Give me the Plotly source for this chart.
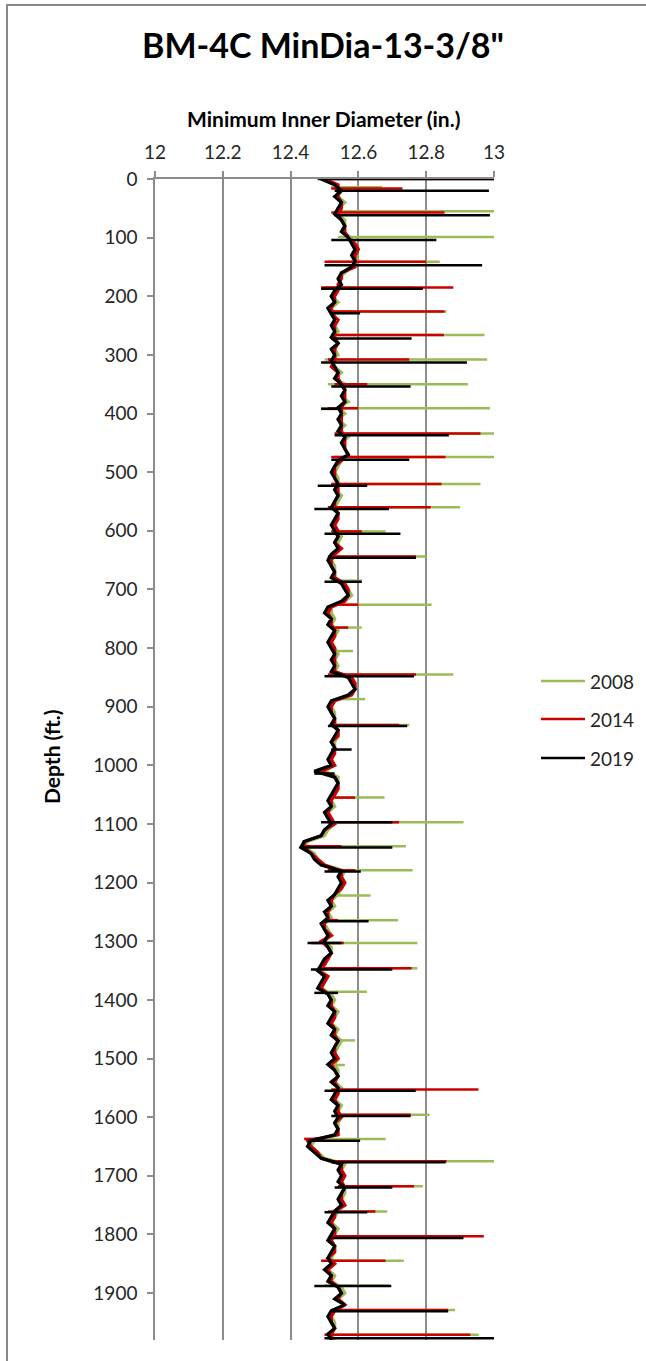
import plotly.graph_objects as go

# ---------------- data ----------------
depth_grid = list(range(0, 1981, 10))  # ft, sampling depths of the baseline readings

dia_2019 = [
    12.49, 12.53, 12.55, 12.53, 12.55, 12.54, 12.53, 12.55, 12.56, 12.55,
    12.57, 12.58, 12.59, 12.58, 12.59, 12.58, 12.55, 12.54, 12.55, 12.53,
    12.52, 12.53, 12.51, 12.52, 12.53, 12.52, 12.53, 12.52, 12.54, 12.52,
    12.53, 12.52, 12.53, 12.54, 12.53, 12.55, 12.56, 12.55, 12.56, 12.54,
    12.55, 12.54, 12.55, 12.54, 12.56, 12.55, 12.56, 12.57, 12.54, 12.53,
    12.52, 12.53, 12.54, 12.53, 12.54, 12.53, 12.52, 12.54, 12.53, 12.52,
    12.53, 12.54, 12.53, 12.54, 12.52, 12.51, 12.52, 12.53, 12.52, 12.55,
    12.56, 12.57, 12.55, 12.51, 12.50, 12.52, 12.51, 12.53, 12.52, 12.51,
    12.52, 12.53, 12.52, 12.53, 12.52, 12.57, 12.58, 12.59, 12.57, 12.52,
    12.51, 12.52, 12.53, 12.52, 12.54, 12.53, 12.52, 12.53, 12.52, 12.51,
    12.52, 12.47, 12.53, 12.54, 12.53, 12.52, 12.51, 12.52, 12.50, 12.51,
    12.52, 12.50, 12.49, 12.44, 12.43, 12.46, 12.47, 12.49, 12.55, 12.54,
    12.55, 12.54, 12.53, 12.51, 12.52, 12.50, 12.51, 12.49, 12.50, 12.51,
    12.50, 12.51, 12.52, 12.50, 12.49, 12.48, 12.50, 12.49, 12.48, 12.51,
    12.52, 12.51, 12.53, 12.52, 12.51, 12.53, 12.52, 12.54, 12.53, 12.52,
    12.53, 12.51, 12.53, 12.54, 12.52, 12.54, 12.53, 12.52, 12.54, 12.53,
    12.54, 12.53, 12.54, 12.53, 12.46, 12.45, 12.47, 12.49, 12.55, 12.54,
    12.55, 12.54, 12.56, 12.55, 12.54, 12.55, 12.53, 12.52, 12.51, 12.53,
    12.52, 12.51, 12.53, 12.52, 12.51, 12.52, 12.50, 12.52, 12.51, 12.54,
    12.55, 12.53, 12.56, 12.52, 12.51, 12.52, 12.53, 12.51, 12.52,
]

dia_2014 = [
    12.50, 12.54, 12.54, 12.54, 12.55, 12.55, 12.54, 12.55, 12.56, 12.56,
    12.57, 12.59, 12.60, 12.59, 12.59, 12.59, 12.55, 12.55, 12.54, 12.54,
    12.53, 12.53, 12.52, 12.52, 12.54, 12.53, 12.53, 12.53, 12.54, 12.53,
    12.53, 12.53, 12.52, 12.54, 12.54, 12.55, 12.56, 12.56, 12.56, 12.55,
    12.55, 12.55, 12.55, 12.55, 12.56, 12.56, 12.56, 12.57, 12.55, 12.53,
    12.53, 12.53, 12.54, 12.54, 12.54, 12.53, 12.53, 12.54, 12.54, 12.53,
    12.54, 12.54, 12.53, 12.55, 12.53, 12.52, 12.52, 12.53, 12.53, 12.56,
    12.57, 12.57, 12.56, 12.52, 12.51, 12.52, 12.52, 12.53, 12.53, 12.52,
    12.53, 12.53, 12.53, 12.53, 12.53, 12.58, 12.59, 12.59, 12.58, 12.53,
    12.52, 12.52, 12.53, 12.53, 12.54, 12.54, 12.52, 12.53, 12.53, 12.52,
    12.53, 12.49, 12.53, 12.54, 12.54, 12.53, 12.52, 12.52, 12.51, 12.52,
    12.53, 12.50, 12.49, 12.44, 12.44, 12.46, 12.48, 12.50, 12.55, 12.55,
    12.56, 12.55, 12.53, 12.52, 12.52, 12.51, 12.51, 12.50, 12.50, 12.52,
    12.49, 12.51, 12.52, 12.51, 12.50, 12.48, 12.51, 12.50, 12.49, 12.51,
    12.52, 12.52, 12.53, 12.53, 12.52, 12.53, 12.53, 12.54, 12.53, 12.53,
    12.54, 12.52, 12.53, 12.54, 12.53, 12.54, 12.54, 12.53, 12.54, 12.54,
    12.55, 12.53, 12.54, 12.54, 12.45, 12.46, 12.48, 12.49, 12.55, 12.55,
    12.56, 12.55, 12.56, 12.55, 12.55, 12.56, 12.53, 12.53, 12.52, 12.53,
    12.53, 12.52, 12.53, 12.53, 12.51, 12.53, 12.51, 12.52, 12.52, 12.54,
    12.55, 12.54, 12.56, 12.53, 12.52, 12.52, 12.53, 12.52, 12.52,
]

dia_2008 = [
    12.50, 12.53, 12.55, 12.54, 12.56, 12.54, 12.54, 12.56, 12.56, 12.55,
    12.58, 12.58, 12.59, 12.59, 12.60, 12.58, 12.56, 12.54, 12.55, 12.54,
    12.52, 12.54, 12.52, 12.53, 12.53, 12.53, 12.54, 12.52, 12.54, 12.53,
    12.54, 12.52, 12.53, 12.55, 12.53, 12.56, 12.56, 12.55, 12.57, 12.54,
    12.56, 12.54, 12.56, 12.54, 12.57, 12.55, 12.56, 12.57, 12.55, 12.54,
    12.53, 12.54, 12.54, 12.53, 12.55, 12.54, 12.53, 12.54, 12.53, 12.53,
    12.53, 12.55, 12.54, 12.54, 12.53, 12.52, 12.53, 12.53, 12.53, 12.56,
    12.57, 12.58, 12.56, 12.52, 12.52, 12.53, 12.52, 12.54, 12.53, 12.52,
    12.53, 12.54, 12.53, 12.54, 12.53, 12.57, 12.59, 12.59, 12.58, 12.53,
    12.52, 12.53, 12.53, 12.53, 12.54, 12.54, 12.53, 12.53, 12.52, 12.52,
    12.53, 12.50, 12.54, 12.54, 12.54, 12.53, 12.52, 12.53, 12.51, 12.52,
    12.53, 12.51, 12.50, 12.45, 12.44, 12.47, 12.48, 12.50, 12.56, 12.55,
    12.56, 12.55, 12.54, 12.52, 12.53, 12.51, 12.52, 12.50, 12.51, 12.52,
    12.50, 12.52, 12.52, 12.51, 12.50, 12.49, 12.51, 12.50, 12.49, 12.52,
    12.53, 12.52, 12.54, 12.53, 12.52, 12.54, 12.53, 12.55, 12.54, 12.53,
    12.54, 12.53, 12.54, 12.54, 12.53, 12.55, 12.54, 12.53, 12.55, 12.54,
    12.55, 12.54, 12.54, 12.54, 12.47, 12.46, 12.48, 12.50, 12.56, 12.55,
    12.56, 12.55, 12.56, 12.56, 12.55, 12.56, 12.54, 12.53, 12.52, 12.54,
    12.53, 12.52, 12.53, 12.53, 12.52, 12.53, 12.51, 12.53, 12.52, 12.55,
    12.56, 12.54, 12.56, 12.53, 12.52, 12.53, 12.53, 12.52, 12.53,
]

# spikes: depth (ft), left end (in.), right end (in.)
spike_depth_2019 = [0, 20, 62, 104, 147, 187, 229, 272, 313, 354, 392, 437, 479,
                    523, 563, 605, 646, 687, 848, 933, 973, 1014, 1097, 1140, 1181,
                    1266, 1303, 1348, 1388, 1555, 1598, 1640, 1677, 1720, 1762,
                    1806, 1888, 1931, 1977]
spike_from_2019 = [12.48, 12.53, 12.53, 12.52, 12.50, 12.49, 12.52, 12.52, 12.49,
                   12.52, 12.49, 12.53, 12.52, 12.48, 12.47, 12.50, 12.51, 12.50,
                   12.50, 12.51, 12.52, 12.47, 12.49, 12.43, 12.50, 12.50, 12.45,
                   12.46, 12.47, 12.50, 12.52, 12.45, 12.52, 12.53, 12.50, 12.51,
                   12.47, 12.52, 12.50]
spike_to_2019 = [13.0, 12.985, 12.988, 12.83, 12.965, 12.79, 12.605, 12.757, 12.92,
                 12.754, 12.55, 12.867, 12.75, 12.626, 12.69, 12.724, 12.77, 12.61,
                 12.764, 12.744, 12.58, 12.53, 12.70, 12.70, 12.607, 12.63, 12.55,
                 12.70, 12.54, 12.769, 12.754, 12.605, 12.857, 12.70, 12.626, 12.91,
                 12.697, 12.865, 13.0]

spike_depth_2014 = [0, 16, 57, 141, 185, 226, 266, 308, 350, 391, 434, 474, 520,
                    560, 601, 644, 726, 765, 845, 931, 1055, 1097, 1138, 1179, 1264,
                    1303, 1346, 1553, 1596, 1637, 1675, 1718, 1761, 1803, 1845,
                    1929, 1971]
spike_from_2014 = [12.50, 12.52, 12.52, 12.50, 12.49, 12.52, 12.52, 12.51, 12.53,
                   12.51, 12.53, 12.52, 12.52, 12.51, 12.52, 12.51, 12.54, 12.53,
                   12.51, 12.52, 12.53, 12.51, 12.44, 12.51, 12.50, 12.46, 12.48,
                   12.52, 12.53, 12.44, 12.52, 12.54, 12.51, 12.52, 12.49, 12.52,
                   12.50]
spike_to_2014 = [13.0, 12.73, 12.854, 12.80, 12.88, 12.854, 12.852, 12.75, 12.626,
                 12.60, 12.96, 12.857, 12.845, 12.813, 12.61, 12.77, 12.60, 12.57,
                 12.77, 12.72, 12.59, 12.72, 12.55, 12.59, 12.54, 12.557, 12.757,
                 12.954, 12.754, 12.50, 12.86, 12.764, 12.65, 12.97, 12.68, 12.864,
                 12.93]

spike_depth_2008 = [14, 55, 99, 141, 185, 226, 266, 308, 350, 391, 434, 474, 520,
                    560, 601, 644, 685, 726, 765, 805, 845, 887, 931, 1055, 1097,
                    1138, 1179, 1222, 1264, 1303, 1346, 1386, 1469, 1511, 1596,
                    1637, 1675, 1718, 1761, 1845, 1887, 1929, 1971]
spike_from_2008 = [12.52, 12.53, 12.54, 12.51, 12.50, 12.52, 12.52, 12.50, 12.51,
                   12.49, 12.53, 12.53, 12.52, 12.51, 12.52, 12.51, 12.52, 12.54,
                   12.52, 12.53, 12.52, 12.55, 12.52, 12.53, 12.51, 12.45, 12.51,
                   12.53, 12.50, 12.47, 12.48, 12.49, 12.54, 12.53, 12.53, 12.47,
                   12.51, 12.54, 12.52, 12.50, 12.50, 12.52, 12.51]
spike_to_2008 = [12.67, 13.0, 13.0, 12.84, 12.76, 12.86, 12.972, 12.98, 12.923,
                 12.988, 13.0, 13.0, 12.96, 12.90, 12.68, 12.80, 12.61, 12.816,
                 12.61, 12.584, 12.88, 12.62, 12.75, 12.677, 12.91, 12.74, 12.76,
                 12.636, 12.717, 12.774, 12.774, 12.625, 12.59, 12.56, 12.81, 12.68,
                 13.0, 12.79, 12.685, 12.734, 12.69, 12.885, 12.955]

series_names = ["2008", "2014", "2019"]
series_colors = ["#9BBB59", "#CC0000", "#000000"]

# ---------------- figure ----------------
def spike_xy(sd, sf, st):
    xs, ys = [], []
    for d, a, b in zip(sd, sf, st):
        xs += [a, b, None]
        ys += [d, d, None]
    return xs, ys

series = [
    (dia_2008, spike_depth_2008, spike_from_2008, spike_to_2008),
    (dia_2014, spike_depth_2014, spike_from_2014, spike_to_2014),
    (dia_2019, spike_depth_2019, spike_from_2019, spike_to_2019),
]

fig = go.Figure()
for name, color, (base, sd, sf, st) in zip(series_names, series_colors, series):
    fig.add_trace(go.Scatter(
        x=base, y=depth_grid, mode="lines", name=name, legendgroup=name,
        showlegend=False,
        line=dict(color=color, width=3.2, simplify=False),
        hoverinfo="skip",
    ))
    sx, sy = spike_xy(sd, sf, st)
    fig.add_trace(go.Scatter(
        x=sx, y=sy, mode="lines", name=name, legendgroup=name,
        showlegend=False,
        line=dict(color=color, width=2.5, simplify=False),
        connectgaps=False, hoverinfo="skip",
    ))

FONT = "Lato, 'Open Sans', sans-serif"
GRID = "#8C8C8C"
TXT = "#262626"

L, R, T, B = 155, 152, 179, 21
W, H = 646, 1361
pw, ph = W - L - R, H - T - B

def px_x(px):
    return (px - L) / pw

def px_y(py):
    return (H - B - py) / ph

annotations = [
    dict(text="<b>BM-4C MinDia-13-3/8\"</b>", xref="paper", yref="paper",
         x=px_x(323), y=px_y(45), xanchor="center", yanchor="middle",
         showarrow=False, font=dict(size=34, color="#000000")),
    dict(text="<b>Minimum Inner Diameter (in.)</b>", xref="paper", yref="paper",
         x=px_x(323), y=px_y(118), xanchor="center", yanchor="middle",
         showarrow=False, font=dict(size=21, color="#000000")),
    dict(text="<b>Depth (ft.)</b>", xref="paper", yref="paper",
         x=px_x(51), y=px_y(757), xanchor="center", yanchor="middle",
         textangle=-90, showarrow=False, font=dict(size=21, color="#000000")),
]
shapes = [
    dict(type="rect", xref="paper", yref="paper",
         x0=px_x(7), x1=px_x(660), y0=px_y(1375), y1=px_y(5),
         line=dict(color="#888888", width=2), fillcolor="rgba(0,0,0,0)",
         layer="below"),
]

# legend drawn as key lines + text
legend_rows = [681, 719, 758]
for name, color, row in zip(series_names, series_colors, legend_rows):
    shapes.append(dict(type="line", xref="paper", yref="paper",
                       x0=px_x(541), x1=px_x(585), y0=px_y(row), y1=px_y(row),
                       line=dict(color=color, width=2.5)))
    annotations.append(dict(text=name, xref="paper", yref="paper",
                            x=px_x(588), y=px_y(row), xanchor="left",
                            yanchor="middle", showarrow=False,
                            font=dict(size=19, color=TXT)))

fig.update_layout(
    width=W, height=H,
    margin=dict(l=L, r=R, t=T, b=B, autoexpand=False),
    paper_bgcolor="white", plot_bgcolor="white",
    font=dict(family=FONT, color=TXT, size=19),
    showlegend=False,
    xaxis=dict(
        side="top", range=[12, 13], dtick=0.2, tick0=12,
        showgrid=True, gridcolor=GRID, gridwidth=1.5,
        showline=True, linecolor=GRID, linewidth=1.5,
        ticks="outside", ticklen=6, tickcolor=GRID, tickwidth=1.5,
        zeroline=False, tickfont=dict(size=19, color=TXT),
        ticklabelstandoff=5, automargin=False,
        fixedrange=True,
    ),
    yaxis=dict(
        range=[1980, 0], dtick=100, tick0=0,
        showgrid=False, showline=True, linecolor=GRID, linewidth=1.5,
        ticks="outside", ticklen=6, tickcolor=GRID, tickwidth=1.5,
        zeroline=False, tickfont=dict(size=19, color=TXT),
        ticklabelstandoff=6, automargin=False,
        fixedrange=True,
    ),
    annotations=annotations,
    shapes=shapes,
)

fig.write_html(
    "out.html",
    config={"displayModeBar": False},
    post_script="document.body.style.margin='0';document.body.style.overflow='hidden';",
)
